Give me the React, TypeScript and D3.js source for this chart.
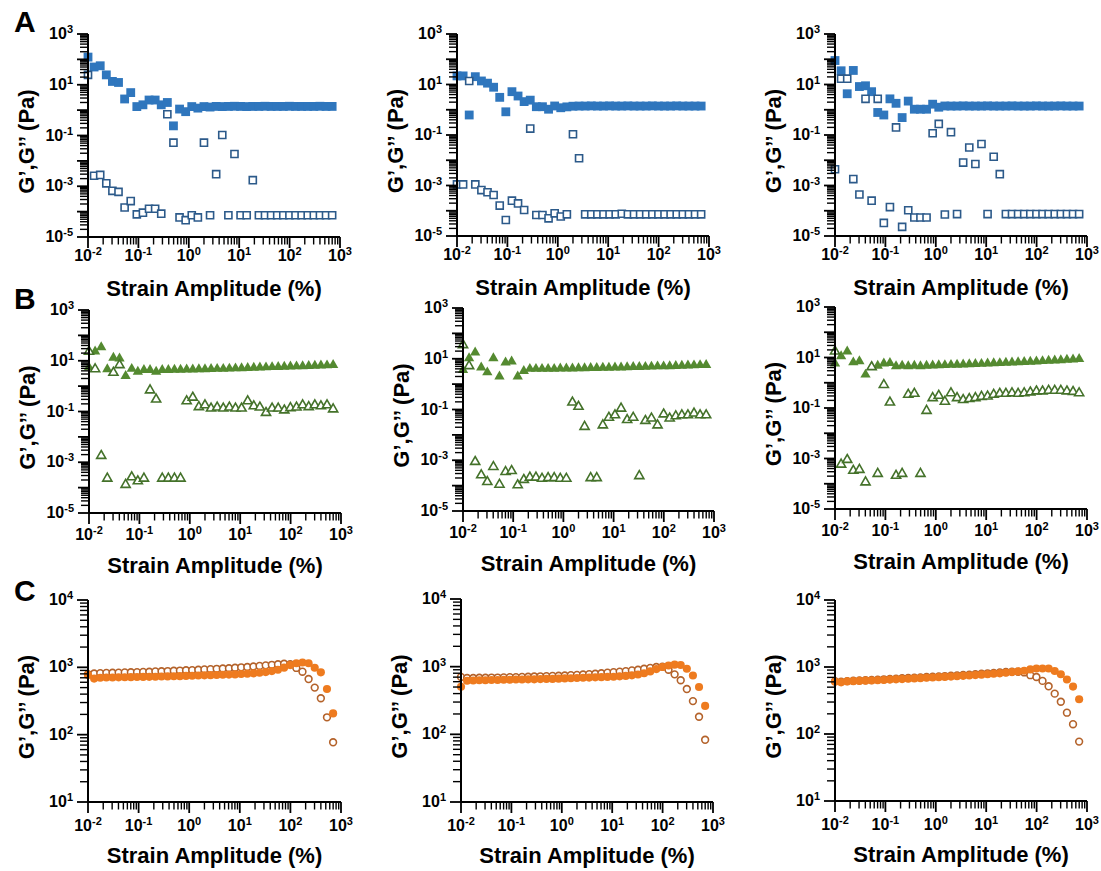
import React from 'react';
import * as d3 from 'd3';

// Strain amplitude (%) – 41 logarithmically spaced points
const strain = [0.0100, 0.01322, 0.01747, 0.02308, 0.03050, 0.04031, 0.05328, 0.07041, 0.09307, 0.1230,
  0.1626, 0.2148, 0.2839, 0.3752, 0.4959, 0.6554, 0.8662, 1.145, 1.513, 2.000,
  2.642, 3.492, 4.615, 6.100, 8.061, 10.65, 14.08, 18.61, 24.59, 32.50,
  42.95, 56.77, 75.02, 99.15, 131.0, 173.2, 228.8, 302.5, 399.7, 528.2, 698.2];

// Row A (blue squares)
const A1_Gp = [123, 50, 56, 24.5, 13.5, 12.3, 2.75, 4.9, 1.38, 1.62, 2.5, 2.5, 1.62, 2.0, 0.24, 1.1, 0.87, 1.38, 1.2, 1.38,
  1.32, 1.4, 1.38, 1.4, 1.42, 1.4, 1.38, 1.4, 1.4, 1.42, 1.4, 1.4, 1.4, 1.42, 1.4, 1.4, 1.4, 1.4, 1.42, 1.4, 1.4];
const A1_Gpp = [24.5, 2.6e-3, 2.8e-3, 1.3e-3, 6.6e-4, 6.0e-4, 1.45e-4, 2.6e-4, 7.8e-5, 9.1e-5, 1.3e-4, 1.3e-4, 8.3e-5, 0.69,
  0.052, 5.9e-5, 4.6e-5, 7.2e-5, 5.9e-5, 0.052, 7.2e-5, 3.0e-3, 0.105, 7.2e-5, 0.0186, 7.2e-5, 7.2e-5, 1.74e-3,
  7.2e-5, 7.2e-5, 7.2e-5, 7.2e-5, 7.2e-5, 7.2e-5, 7.2e-5, 7.2e-5, 7.2e-5, 7.2e-5, 7.2e-5, 7.2e-5, 7.2e-5];
const A2_Gp = [21.9, 21.9, 0.62, 20.4, 13.8, 11.3, 7.8, 3.1, 0.83, 5.2, 3.5, 2.1, 2.4, 1.32, 1.32, 1.05, 1.41, 1.2, 1.3, 1.38,
  1.4, 1.4, 1.42, 1.4, 1.4, 1.42, 1.4, 1.4, 1.42, 1.4, 1.4, 1.4, 1.42, 1.4, 1.4, 1.4, 1.42, 1.4, 1.4, 1.4, 1.4];
const A2_Gpp = [1.1e-3, 1.1e-3, 13.8, 1.1e-3, 6.6e-4, 5.4e-4, 4.2e-4, 1.6e-4, 4.3e-5, 2.5e-4, 1.95e-4, 1.07e-4, 0.18,
  6.8e-5, 6.8e-5, 5.0e-5, 7.9e-5, 5.9e-5, 7.2e-5, 0.107, 0.012,
  7.2e-5, 7.2e-5, 7.2e-5, 7.2e-5, 7.2e-5, 7.2e-5, 7.6e-5, 7.2e-5, 7.2e-5, 7.2e-5, 7.2e-5, 7.2e-5, 7.2e-5, 7.2e-5, 7.2e-5,
  7.2e-5, 7.2e-5, 7.2e-5, 7.2e-5, 7.2e-5];
const A3_Gp = [89, 35, 4.3, 36, 8.3, 8.9, 5.2, 0.78, 0.62, 2.7, 1.8, 0.49, 2.2, 1.05, 1.05, 1.05, 1.66, 1.26,
  1.41, 1.4, 1.4, 1.42, 1.4, 1.4, 1.4, 1.42, 1.4, 1.4, 1.4, 1.42, 1.4, 1.4, 1.4, 1.42, 1.4, 1.4, 1.4, 1.42, 1.4, 1.4, 1.4];
const A3_Gpp = [4.4e-3, 17, 17, 1.8e-3, 4.4e-4, 2.7, 2.5e-4, 2.7, 3.3e-5, 1.4e-4, 0.2, 2.3e-5, 1.05e-4, 5.4e-5, 5.4e-5,
  5.4e-5, 0.117, 0.275, 7.1e-5, 0.129, 7.4e-5, 8.1e-3, 0.032, 7.1e-3, 0.044, 7.4e-5, 0.0138, 2.8e-3,
  7.4e-5, 7.4e-5, 7.4e-5, 7.4e-5, 7.4e-5, 7.4e-5, 7.4e-5, 7.4e-5, 7.4e-5, 7.4e-5, 7.4e-5, 7.4e-5, 7.4e-5];

// Row B (green triangles)
const B1_Gp = [5.5, 23, 34, 4.6, 13.2, 12.3, 2.5, 4.8, 3.7, 4.3, 4.3, 3.7, 4.3, 4.3, 4.4, 4.4, 4.5, 4.5, 4.6, 4.6,
  4.7, 4.8, 4.8, 4.9, 5.0, 5.1, 5.2, 5.3, 5.4, 5.5, 5.6, 5.7, 5.8, 5.9, 6.0, 6.1, 6.2, 6.4, 6.5, 6.6, 6.8];
const B1_Gpp = [23, 4.7, 1.8e-3, 2.3e-4, 3.4, 6.8, 1.3e-4, 2.6e-4, 1.8e-4, 2.3e-4, 0.69, 0.30, 2.3e-4, 2.3e-4, 2.3e-4,
  2.3e-4, 0.257, 0.355, 0.151, 0.178, 0.132, 0.145, 0.132, 0.145, 0.132, 0.132, 0.257, 0.162, 0.145, 0.089,
  0.132, 0.132, 0.112, 0.138, 0.145, 0.178, 0.151, 0.178, 0.162, 0.178, 0.123];
const B2_Gp = [3.6, 10.4, 17.7, 4.5, 2.9, 10.4, 2.0, 7.1, 7.8, 2.0, 3.3, 4.0, 4.0, 4.0, 4.0, 4.0, 4.1, 4.1, 4.1, 4.2,
  4.2, 4.3, 4.3, 4.4, 4.4, 4.5, 4.5, 4.6, 4.7, 4.7, 4.8, 4.9, 5.0, 5.0, 5.1, 5.2, 5.3, 5.4, 5.5, 5.6, 5.7];
const B2_Gpp = [35, 5.2, 8.7e-4, 2.6e-4, 1.4e-4, 5.5e-4, 1.1e-4, 3.5e-4, 3.8e-4, 1.05e-4, 1.7e-4, 2.1e-4, 2.1e-4,
  1.9e-4, 2.0e-4, 2.0e-4, 1.9e-4, 1.9e-4, 0.19, 0.13, 0.021, 2.0e-4, 2.0e-4, 0.024, 0.048, 0.06, 0.11, 0.039,
  0.048, 2.4e-4, 0.036, 0.045, 0.024, 0.065, 0.045, 0.055, 0.06, 0.06, 0.07, 0.06, 0.06];
const B3_Gp = [5.8, 11.2, 17.4, 6.4, 7.1, 2.1, 4.2, 4.7, 5.8, 6.1, 4.5, 4.7, 4.5, 4.7, 4.5, 4.7, 4.8, 4.9, 5.0, 5.1,
  5.2, 5.3, 5.4, 5.5, 5.6, 5.8, 5.9, 6.0, 6.2, 6.3, 6.5, 6.6, 6.8, 7.0, 7.2, 7.4, 7.6, 7.8, 8.1, 8.4, 8.7];
const B3_Gpp = [17.4, 5.8e-4, 8.9e-4, 3.3e-4, 3.6e-4, 1.15e-4, 4.2, 2.5e-4, 0.83, 0.166, 2.1e-4, 2.5e-4, 0.34, 0.37,
  2.5e-4, 0.078, 0.25, 0.31, 0.18, 0.39, 0.25, 0.21, 0.23, 0.25, 0.28, 0.29, 0.34, 0.37, 0.37, 0.39,
  0.37, 0.39, 0.42, 0.46, 0.46, 0.49, 0.49, 0.49, 0.46, 0.44, 0.39];

// Row C (orange circles)
const C1_Gp = [770, 680, 700, 705, 705, 710, 712, 715, 718, 720, 723, 726, 730, 733, 736, 740, 745, 750, 755, 760,
  765, 770, 775, 780, 785, 795, 805, 815, 830, 850, 880, 920, 990, 1080, 1150, 1180, 1150, 986, 843, 477, 207];
const C1_Gpp = [790, 810, 820, 825, 830, 835, 840, 845, 850, 855, 860, 870, 875, 880, 890, 895, 905, 910, 920, 930,
  940, 950, 960, 970, 985, 1000, 1010, 1030, 1050, 1070, 1090, 1110, 1130, 1110, 980, 861, 670, 500, 347, 181, 77];
const C2_Gp = [505, 620, 625, 630, 630, 635, 635, 640, 640, 645, 645, 650, 650, 655, 660, 660, 665, 670, 675, 680,
  685, 690, 695, 700, 705, 710, 720, 730, 745, 765, 800, 850, 920, 990, 1040, 1070, 1060, 930, 740, 500, 263];
const C2_Gpp = [705, 680, 680, 685, 685, 690, 690, 695, 700, 700, 705, 710, 715, 720, 725, 730, 735, 740, 750, 755,
  765, 775, 785, 800, 815, 830, 845, 860, 880, 900, 930, 960, 990, 1000, 900, 770, 630, 467, 310, 182, 83];
const C3_Gp = [600, 590, 610, 615, 620, 625, 630, 635, 640, 648, 655, 660, 668, 675, 682, 690, 698, 705, 712, 720,
  728, 738, 748, 758, 768, 780, 792, 805, 820, 840, 860, 880, 920, 950, 950, 950, 870, 780, 650, 510, 330];
const C3_Gpp = [615, 605, 615, 625, 630, 635, 640, 648, 655, 662, 670, 678, 685, 692, 700, 708, 716, 724, 732, 740,
  750, 760, 770, 780, 792, 805, 818, 830, 842, 850, 850, 830, 755, 710, 620, 515, 400, 303, 208, 140, 77];

const xDomain = [0.01, 1000];
const yDomainAB = [1e-5, 1e3];
const yDomainC = [10, 1e4];
const rowLetters = ['A', 'B', 'C'];
const xTitle = 'Strain Amplitude (%)';
const yTitle = 'G\u2019,G\u2019\u2019 (Pa)';

const FONT = '"Liberation Sans", Arial, Helvetica, sans-serif';

type Style = { shape: any; fill: string; stroke: string; fSize: number; oSize: number; openOnTop: boolean };

const styles: Record<string, Style> = {
  A: { shape: d3.symbolSquare, fill: '#2f76bd', stroke: '#2c5a8a', fSize: 78, oSize: 50, openOnTop: true },
  B: { shape: d3.symbolTriangle, fill: '#548a30', stroke: '#44722a', fSize: 46, oSize: 36, openOnTop: true },
  C: { shape: d3.symbolCircle, fill: '#ee7b1f', stroke: '#b4622a', fSize: 52, oSize: 36, openOnTop: false },
};

type PanelCfg = {
  row: string; x0: number; x1: number; y0: number; y1: number;
  yDomain: number[]; filled: number[]; open: number[]; oddOnly: boolean;
  xLabOff: number; xTitleOff: number;
};

const panels: PanelCfg[] = [
  { row: 'A', x0: 88, x1: 340, y0: 34, y1: 237, yDomain: yDomainAB, filled: A1_Gp, open: A1_Gpp, oddOnly: true, xLabOff: 24, xTitleOff: 59 },
  { row: 'A', x0: 457, x1: 709, y0: 34, y1: 236, yDomain: yDomainAB, filled: A2_Gp, open: A2_Gpp, oddOnly: true, xLabOff: 24, xTitleOff: 59 },
  { row: 'A', x0: 835, x1: 1087, y0: 34, y1: 236, yDomain: yDomainAB, filled: A3_Gp, open: A3_Gpp, oddOnly: true, xLabOff: 24, xTitleOff: 59 },
  { row: 'B', x0: 89, x1: 341, y0: 310, y1: 513, yDomain: yDomainAB, filled: B1_Gp, open: B1_Gpp, oddOnly: true, xLabOff: 27, xTitleOff: 60 },
  { row: 'B', x0: 463, x1: 714, y0: 308, y1: 511, yDomain: yDomainAB, filled: B2_Gp, open: B2_Gpp, oddOnly: true, xLabOff: 27, xTitleOff: 60 },
  { row: 'B', x0: 835, x1: 1087, y0: 307, y1: 509, yDomain: yDomainAB, filled: B3_Gp, open: B3_Gpp, oddOnly: true, xLabOff: 27, xTitleOff: 60 },
  { row: 'C', x0: 88, x1: 341, y0: 600, y1: 802, yDomain: yDomainC, filled: C1_Gp, open: C1_Gpp, oddOnly: false, xLabOff: 29, xTitleOff: 61 },
  { row: 'C', x0: 461, x1: 713, y0: 599, y1: 802, yDomain: yDomainC, filled: C2_Gp, open: C2_Gpp, oddOnly: false, xLabOff: 29, xTitleOff: 61 },
  { row: 'C', x0: 835, x1: 1087, y0: 600, y1: 801, yDomain: yDomainC, filled: C3_Gp, open: C3_Gpp, oddOnly: false, xLabOff: 29, xTitleOff: 61 },
];

const letterPos: Record<string, [number, number]> = { A: [14, 32], B: [14, 309], C: [14, 601] };

const expOf = (v: number) => Math.round(Math.log10(v));
const isMajor = (v: number) => Math.abs(Math.log10(v) - expOf(v)) < 1e-6;

function Pow({ e, ...rest }: any) {
  return (
    <text {...rest}>
      10<tspan fontSize={11} dy={-6}>{String(e)}</tspan>
    </text>
  );
}

function Panel({ p }: { p: PanelCfg }) {
  const st = styles[p.row];
  const x = d3.scaleLog().domain(xDomain).range([p.x0, p.x1]);
  const y = d3.scaleLog().domain(p.yDomain).range([p.y1, p.y0]);
  const xt = x.ticks();
  const yt = y.ticks();
  const fPath = d3.symbol().type(st.shape).size(st.fSize)() as string;
  const oPath = d3.symbol().type(st.shape).size(st.oSize)() as string;

  const filledMarks = strain.map((s, i) => (
    <path key={'f' + i} d={fPath} transform={`translate(${x(s)},${y(p.filled[i])})`} fill={st.fill} />
  ));
  const openMarks = strain.map((s, i) => (
    <path key={'o' + i} d={oPath} transform={`translate(${x(s)},${y(p.open[i])})`} fill="#fff" stroke={st.stroke} strokeWidth={1.6} />
  ));

  return (
    <g>
      {st.openOnTop ? filledMarks : openMarks}
      {st.openOnTop ? openMarks : filledMarks}
      {/* axes */}
      <line x1={p.x0} x2={p.x0} y1={p.y0} y2={p.y1} stroke="#000" strokeWidth={2} />
      <line x1={p.x0} x2={p.x1} y1={p.y1} y2={p.y1} stroke="#000" strokeWidth={2} />
      {xt.map((v, i) => {
        const maj = isMajor(v);
        return <line key={'xt' + i} x1={x(v)} x2={x(v)} y1={p.y1} y2={p.y1 + (maj ? 11 : 7.5)} stroke="#000" strokeWidth={maj ? 1.8 : 1.4} />;
      })}
      {yt.map((v, i) => {
        const maj = isMajor(v);
        return <line key={'yt' + i} x1={p.x0} x2={p.x0 - (maj ? 11 : 8)} y1={y(v)} y2={y(v)} stroke="#000" strokeWidth={maj ? 1.8 : 1.4} />;
      })}
      {xt.filter(isMajor).map((v, i) => (
        <Pow key={'xl' + i} e={expOf(v)} x={x(v)} y={p.y1 + p.xLabOff} textAnchor="middle" fontSize={16} fontWeight="bold" fontFamily={FONT} />
      ))}
      {yt.filter(isMajor).filter((v) => !p.oddOnly || Math.abs(expOf(v)) % 2 === 1).map((v, i) => (
        <Pow key={'yl' + i} e={expOf(v)} x={p.x0 - 15} y={y(v) + 5} textAnchor="end" fontSize={16} fontWeight="bold" fontFamily={FONT} />
      ))}
      <text x={(p.x0 + p.x1) / 2} y={p.y1 + p.xTitleOff} textAnchor="middle" fontSize={22} fontWeight="bold" fontFamily={FONT}>{xTitle}</text>
      <text transform={`translate(${p.x0 - 54},${(p.y0 + p.y1) / 2 + 6}) rotate(-90)`} textAnchor="middle" fontSize={22} fontWeight="bold" fontFamily={FONT}>{yTitle}</text>
    </g>
  );
}

export default function App() {
  return (
    <svg width={1101} height={871} style={{ position: 'absolute', left: 0, top: 0, background: '#fff' }}>
      <rect width={1101} height={871} fill="#fff" />
      {panels.map((p, i) => <Panel key={i} p={p} />)}
      {rowLetters.map((l) => (
        <text key={l} x={letterPos[l][0]} y={letterPos[l][1]} fontSize={30} fontWeight="bold" fontFamily={FONT}>{l}</text>
      ))}
    </svg>
  );
}
